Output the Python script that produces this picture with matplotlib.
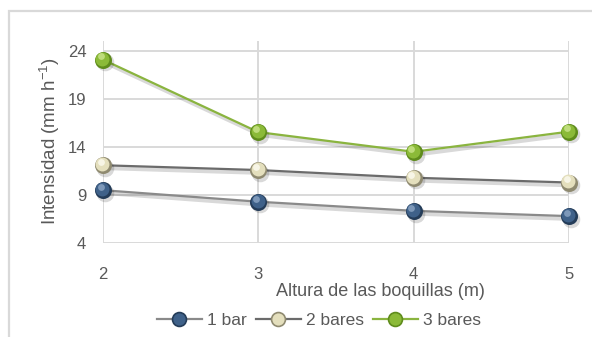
import matplotlib
matplotlib.use("Agg")
import matplotlib.pyplot as plt
import matplotlib.patheffects as pe
from matplotlib.lines import Line2D
from matplotlib.patches import Rectangle
from matplotlib.transforms import offset_copy

# Data
alturas = [2, 3, 4, 5]
series_names = ["1 bar", "2 bares", "3 bares"]
intensidad_1bar = [9.5, 8.3, 7.35, 6.8]
intensidad_2bares = [12.1, 11.6, 10.8, 10.3]
intensidad_3bares = [23.1, 15.55, 13.5, 15.6]
y_ticks = [4, 9, 14, 19, 24]

plt.rcParams["font.family"] = ["Liberation Sans", "DejaVu Sans"]
txt = "#595959"
grid = "#d9d9d9"

fig = plt.figure(figsize=(5.92, 3.37), dpi=100)
fig.patches.append(Rectangle((9 / 592, -0.05), 1.2, 1 - 11 / 337 + 0.05,
                             transform=fig.transFigure, fill=False,
                             edgecolor="#d9d9d9", linewidth=1.6, zorder=0))

ax = fig.add_axes([103 / 592, 1 - 243 / 337, (569 - 103) / 592, (243 - 41.4) / 337])
ax.set_xlim(2, 5)
ax.set_ylim(4, 25)
ax.set_xticks(alturas)
ax.set_yticks(y_ticks)
ax.grid(True, color=grid, linewidth=1.4)
ax.set_axisbelow(True)
for s in ax.spines.values():
    s.set_visible(False)
ax.tick_params(length=0, colors=txt, labelsize=12)
ax.tick_params(axis="x", pad=17)
ax.tick_params(axis="y", pad=12)
for lbl in ax.get_xticklabels() + ax.get_yticklabels():
    lbl.set_color(txt)

styles = [
    # line color, sphere shades (edge/dark, mid, light highlight)
    ("#8a8a8a", ("#243c58", "#3f6189", "#89a3c2")),
    ("#6b6b6b", ("#8f8a70", "#e4dfbd", "#fbfaee")),
    ("#8ab43f", ("#5f8c1c", "#8bba38", "#c8e388")),
]
data = [intensidad_1bar, intensidad_2bares, intensidad_3bares]

shadow = [pe.SimpleLineShadow(offset=(1.5, -2), shadow_color="#000000", alpha=0.15, linewidth=3),
          pe.Normal()]

for vals, (lc, shades) in zip(data, styles):
    ax.plot(alturas, vals, color=lc, linewidth=1.6, zorder=3, path_effects=shadow,
            clip_on=False)
    dark, mid, light = shades
    sh = offset_copy(ax.transData, fig=fig, x=1.5, y=-2, units="points")
    ax.scatter(alturas, vals, s=160, color="#000000", alpha=0.15, transform=sh,
               zorder=4, clip_on=False, linewidths=0)
    ax.scatter(alturas, vals, s=150, color=dark, zorder=5, clip_on=False, linewidths=0)
    hi1 = offset_copy(ax.transData, fig=fig, x=-0.6, y=0.8, units="points")
    ax.scatter(alturas, vals, s=100, color=mid, zorder=6, clip_on=False, linewidths=0,
               transform=hi1)
    hi2 = offset_copy(ax.transData, fig=fig, x=-1.6, y=2.3, units="points")
    ax.scatter(alturas, vals, s=24, color=light, zorder=7, clip_on=False, linewidths=0,
               transform=hi2, alpha=0.85)

fig.text(50 / 592, 1 - 141 / 337, "Intensidad (mm h$^{\\mathregular{-1}}$)", rotation=90,
         ha="center", va="center", fontsize=13.5, color=txt)
fig.text(380 / 592, 1 - 291 / 337, "Altura de las boquillas (m)",
         ha="center", va="center", fontsize=13, color=txt)

handles = [Line2D([0], [0], color=lc, linewidth=1.6, marker="o", markersize=10,
                  markerfacecolor=shades[1], markeredgecolor=shades[0], markeredgewidth=1.2)
           for lc, shades in styles]
fig.legend(handles, series_names, loc="center", bbox_to_anchor=(319 / 592, 1 - 320 / 337),
           ncol=3, frameon=False, fontsize=12.5, labelcolor=txt, handlelength=2.6,
           handletextpad=0.3, columnspacing=0.5, borderpad=0)

fig.savefig("out.png", dpi=100)
